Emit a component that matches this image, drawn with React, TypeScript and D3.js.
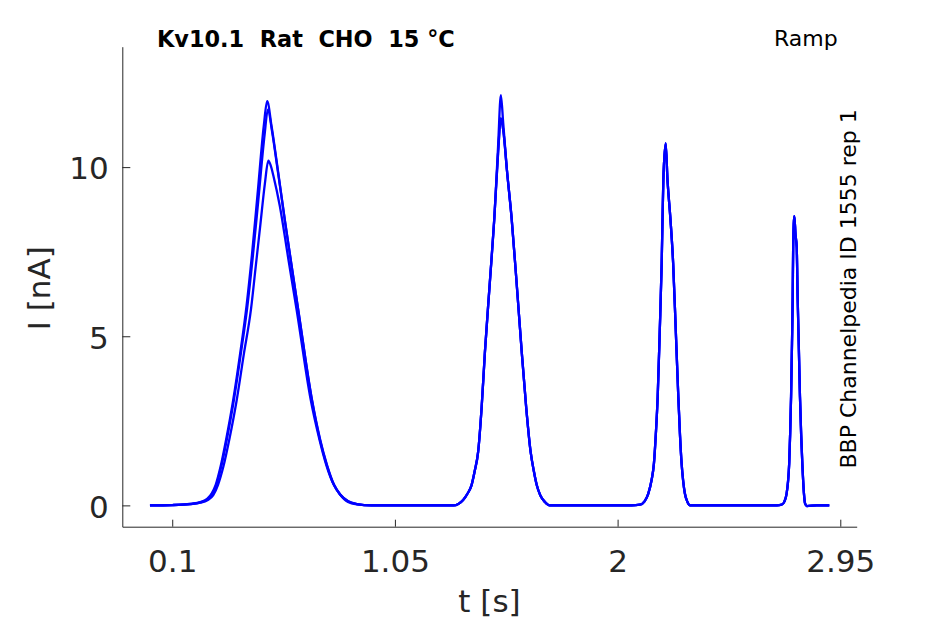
import React, { useEffect, useRef } from "react";
import * as d3 from "d3";

// ---- tick labels ----
const xTicks = [0.1, 1.05, 2, 2.95];
const xTickLabels = ["0.1", "1.05", "2", "2.95"];
const yTicks = [0, 5, 10];
const yTickLabels = ["0", "5", "10"];

// ---- trace A (largest), ramp 1 ----
const ramp1T_A = [0.005, 0.10, 0.18, 0.22, 0.25, 0.268, 0.285, 0.306, 0.33, 0.36, 0.39, 0.417, 0.44, 0.464, 0.491, 0.505, 0.524, 0.545, 0.581, 0.638, 0.695, 0.73, 0.759, 0.79, 0.815, 0.85, 0.887, 0.95];
const ramp1I_A = [0, 0.01, 0.05, 0.1, 0.2, 0.35, 0.6, 1.14, 1.95, 3.11, 4.5, 5.9, 7.4, 9.2, 11.25, 11.95, 11.2, 10.2, 8.4, 5.75, 3.15, 1.95, 1.2, 0.6, 0.33, 0.12, 0.04, 0];
// ---- trace B, ramp 1 ----
const ramp1T_B = [0.005, 0.10, 0.18, 0.22, 0.25, 0.271, 0.288, 0.309, 0.333, 0.363, 0.393, 0.42, 0.443, 0.467, 0.494, 0.508, 0.526, 0.546, 0.582, 0.639, 0.696, 0.731, 0.76, 0.791, 0.816, 0.851, 0.888, 0.95];
const ramp1I_B = [0, 0.01, 0.04, 0.09, 0.18, 0.35, 0.6, 1.14, 1.95, 3.11, 4.5, 5.85, 7.3, 9.0, 10.95, 11.7, 11.05, 10.1, 8.35, 5.72, 3.13, 1.95, 1.2, 0.6, 0.33, 0.12, 0.04, 0];
// ---- trace C (smallest), ramp 1 ----
const ramp1T_C = [0.005, 0.10, 0.18, 0.22, 0.25, 0.275, 0.295, 0.318, 0.345, 0.375, 0.405, 0.436, 0.456, 0.476, 0.495, 0.51, 0.52, 0.533, 0.559, 0.595, 0.631, 0.69, 0.728, 0.757, 0.79, 0.815, 0.85, 0.887, 0.95];
const ramp1I_C = [0, 0.01, 0.04, 0.08, 0.15, 0.3, 0.6, 1.14, 2.0, 3.11, 4.45, 5.8, 7.05, 8.3, 9.5, 10.19, 10.05, 9.7, 8.85, 7.3, 5.77, 3.15, 1.95, 1.2, 0.6, 0.33, 0.1, 0.03, 0];

// ---- ramp 2 ----
const ramp2T = [1.30, 1.341, 1.36, 1.377, 1.39, 1.405, 1.42, 1.434, 1.455, 1.474, 1.49, 1.502, 1.512, 1.528, 1.548, 1.57, 1.591, 1.61, 1.629, 1.643, 1.655, 1.67, 1.69, 1.71];
const ramp2I_A = [0, 0.16, 0.35, 0.6, 1.0, 1.58, 2.9, 4.54, 6.6, 8.48, 10.6, 12.13, 11.3, 9.9, 8.48, 6.5, 4.54, 2.9, 1.58, 1.0, 0.6, 0.3, 0.1, 0];
const ramp2I_B = [0, 0.16, 0.35, 0.6, 1.0, 1.58, 2.9, 4.54, 6.6, 8.48, 10.4, 11.44, 11.1, 9.9, 8.48, 6.5, 4.54, 2.9, 1.58, 1.0, 0.6, 0.3, 0.1, 0];

// ---- ramp 3 ----
const ramp3T = [2.06, 2.095, 2.115, 2.131, 2.145, 2.155, 2.163, 2.171, 2.18, 2.188, 2.195, 2.205, 2.213, 2.225, 2.237, 2.248, 2.259, 2.266, 2.273, 2.28, 2.287, 2.298, 2.309];
const ramp3I = [0, 0.02, 0.12, 0.35, 0.75, 1.24, 2.1, 3.21, 5.2, 7.15, 9.6, 10.7, 9.6, 8.5, 7.15, 5.2, 3.21, 2.1, 1.24, 0.7, 0.35, 0.1, 0];

// ---- ramp 4 ----
const ramp4T = [2.68, 2.70, 2.712, 2.721, 2.727, 2.732, 2.736, 2.740, 2.744, 2.747, 2.749, 2.754, 2.759, 2.764, 2.768, 2.773, 2.778, 2.783, 2.788, 2.795, 2.800, 2.807, 2.85, 2.903];
const ramp4I = [0, 0.02, 0.12, 0.35, 0.7, 1.24, 2.1, 3.21, 4.8, 6.17, 7.64, 8.55, 8.0, 7.64, 6.17, 4.7, 3.21, 2.1, 1.24, 0.35, 0.05, -0.02, 0, 0];

const zip = (t: number[], v: number[]) => t.map((tt, k) => [tt, v[k]] as [number, number]);

const traces: [number, number][][] = [
  [...zip(ramp1T_C, ramp1I_C), ...zip(ramp2T, ramp2I_B), ...zip(ramp3T, ramp3I), ...zip(ramp4T, ramp4I)],
  [...zip(ramp1T_B, ramp1I_B), ...zip(ramp2T, ramp2I_B), ...zip(ramp3T, ramp3I), ...zip(ramp4T, ramp4I)],
  [...zip(ramp1T_A, ramp1I_A), ...zip(ramp2T, ramp2I_A), ...zip(ramp3T, ramp3I), ...zip(ramp4T, ramp4I)],
];

const W = 945;
const H = 624;
const AX = "#262626";
const FONT = "DejaVu Sans, sans-serif";

export default function App() {
  const ref = useRef<SVGSVGElement | null>(null);

  useEffect(() => {
    const svg = d3.select(ref.current);
    svg.selectAll("*").remove();

    const x = d3.scaleLinear().domain([-0.113, 3.02]).range([122.3, 856.7]);
    const y = d3.scaleLinear().domain([-0.63, 13.56]).range([526.7, 46.7]);

    const line = d3
      .line<[number, number]>()
      .x((d) => x(d[0]))
      .y((d) => y(d[1]))
      .curve(d3.curveMonotoneX);

    svg
      .append("g")
      .selectAll("path")
      .data(traces)
      .join("path")
      .attr("d", (d) => line(d))
      .attr("fill", "none")
      .attr("stroke", "#0000ff")
      .attr("stroke-width", 2.3)
      .attr("stroke-linejoin", "round");

    // x axis
    const gx = svg
      .append("g")
      .attr("transform", "translate(0,526.7)")
      .call(
        d3
          .axisBottom(x)
          .tickValues(xTicks)
          .tickFormat((_, i) => xTickLabels[i])
          .tickSizeInner(-7)
          .tickSizeOuter(0)
      );
    gx.select(".domain").attr("stroke", AX).attr("stroke-width", 1);
    gx.selectAll(".tick line").attr("stroke", AX).attr("stroke-width", 1);
    gx.selectAll(".tick text")
      .attr("y", 45)
      .attr("dy", 0)
      .attr("fill", AX)
      .attr("font-family", FONT)
      .attr("font-size", 31);

    // y axis
    const gy = svg
      .append("g")
      .attr("transform", "translate(122.3,0)")
      .call(
        d3
          .axisLeft(y)
          .tickValues(yTicks)
          .tickFormat((_, i) => yTickLabels[i])
          .tickSizeInner(-8)
          .tickSizeOuter(0)
      );
    gy.select(".domain").attr("stroke", AX).attr("stroke-width", 1);
    gy.selectAll(".tick line").attr("stroke", AX).attr("stroke-width", 1);
    gy.selectAll(".tick text")
      .attr("x", -13.6)
      .attr("dy", "0.38em")
      .attr("fill", AX)
      .attr("font-family", FONT)
      .attr("font-size", 31);

    // axis labels
    svg
      .append("text")
      .attr("x", 489.5)
      .attr("y", 612)
      .attr("text-anchor", "middle")
      .attr("fill", AX)
      .attr("font-family", FONT)
      .attr("font-size", 31)
      .text("t [s]");
    svg
      .append("text")
      .attr("transform", "translate(49.5,288.3) rotate(-90)")
      .attr("text-anchor", "middle")
      .attr("fill", AX)
      .attr("font-family", FONT)
      .attr("font-size", 31)
      .text("I [nA]");

    // title texts
    svg
      .append("text")
      .attr("x", 157)
      .attr("y", 47.3)
      .attr("fill", "#000")
      .attr("font-family", FONT)
      .attr("font-weight", "bold")
      .attr("font-size", 22.4)
      .attr("xml:space", "preserve")
      .style("white-space", "pre")
      .text("Kv10.1  Rat  CHO  15 °C");
    svg
      .append("text")
      .attr("x", 774)
      .attr("y", 46)
      .attr("fill", "#000")
      .attr("font-family", FONT)
      .attr("font-size", 22)
      .text("Ramp");
    svg
      .append("text")
      .attr("transform", "translate(856,468.5) rotate(-90)")
      .attr("fill", "#000")
      .attr("font-family", FONT)
      .attr("font-size", 22)
      .text("BBP Channelpedia ID 1555 rep 1");
  }, []);

  return (
    <svg
      ref={ref}
      width={W}
      height={H}
      style={{ position: "absolute", left: 0, top: 0, background: "#fff" }}
    />
  );
}
